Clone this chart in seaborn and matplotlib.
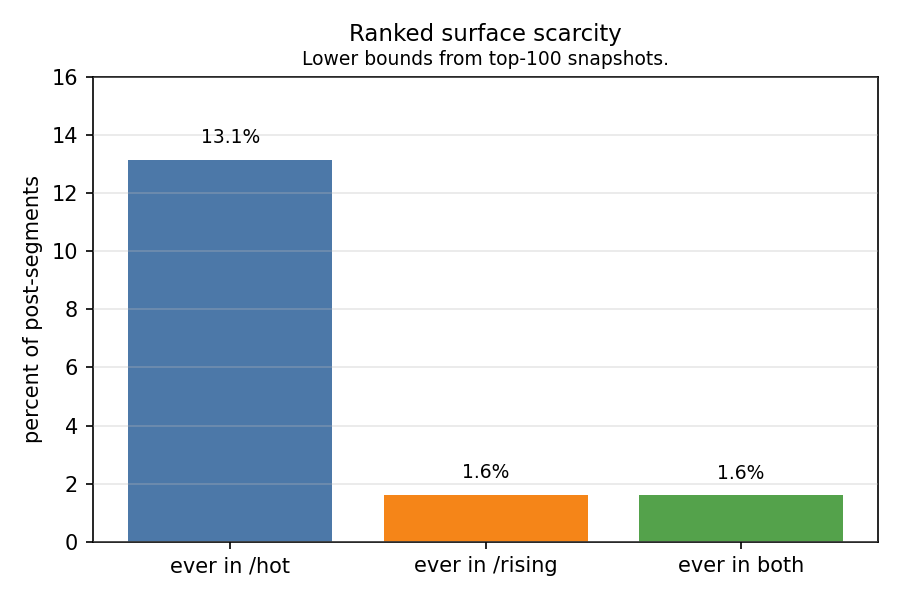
import matplotlib
matplotlib.use("Agg")
import matplotlib.pyplot as plt
import seaborn as sns
import pandas as pd

categories = ["ever in /hot", "ever in /rising", "ever in both"]
percents = [13.14, 1.62, 1.61]
colors = ["#4C78A8", "#F58518", "#54A24B"]

df = pd.DataFrame({"surface": categories, "pct": percents})

plt.rcParams['font.family'] = ['DejaVu Sans']

fig, ax = plt.subplots(figsize=(6, 4), dpi=150)
sns.barplot(data=df, x="surface", y="pct", hue="surface", palette=colors,
            width=0.8, legend=False, ax=ax, saturation=1)

# value labels above bars
for p, v in zip(ax.patches, percents):
    ax.annotate(f"{v:.1f}%", (p.get_x() + p.get_width() / 2, p.get_height()),
                xytext=(0, 6), textcoords="offset points",
                ha="center", va="bottom", fontsize=9)

ax.set_ylim(0, 16)
ax.set_xlim(-0.54, 2.54)
ax.set_xlabel("")
ax.set_ylabel("percent of post-segments")
ax.yaxis.grid(True, color="#bbbbbb", alpha=0.3, linewidth=0.9)
ax.set_axisbelow(False)
ax.tick_params(axis="both", length=3.5, width=0.8)

ax.text(0.5, 1.067, "Ranked surface scarcity", transform=ax.transAxes,
        ha="center", va="bottom", fontsize=11)
ax.text(0.5, 1.017, "Lower bounds from top-100 snapshots.", transform=ax.transAxes,
        ha="center", va="bottom", fontsize=9)

fig.subplots_adjust(left=0.103, right=0.976, top=0.872, bottom=0.097)
fig.savefig("out.png", dpi=150)
